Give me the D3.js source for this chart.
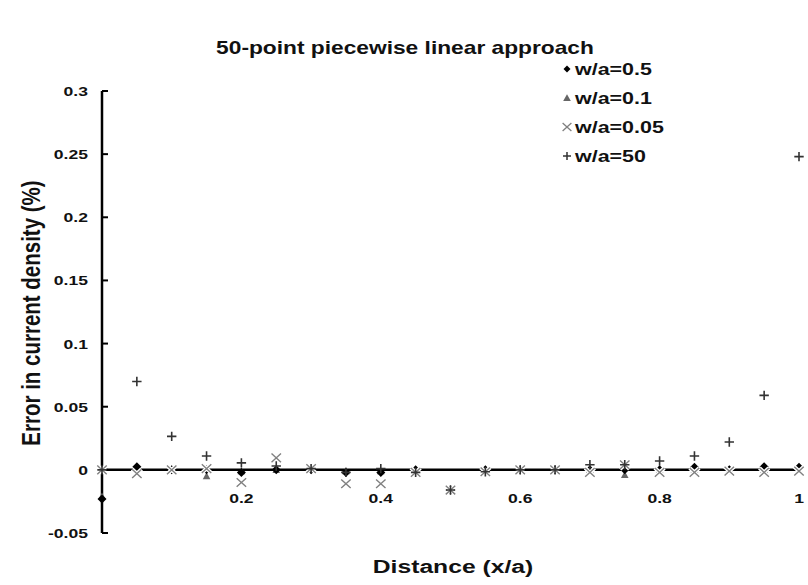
<!DOCTYPE html>
<html>
<head>
<meta charset="utf-8">
<script src="https://cdn.jsdelivr.net/npm/d3@7"></script>
<style>
  html, body { margin: 0; padding: 0; background: #fff; }
  svg { display: block; font-family: Arial, "Liberation Sans", sans-serif; }
</style>
</head>
<body>
<svg id="chart" width="808" height="585"></svg>
<script>
// ---- data ----
const xValues = [0, 0.05, 0.1, 0.15, 0.2, 0.25, 0.3, 0.35, 0.4, 0.45, 0.5,
                 0.55, 0.6, 0.65, 0.7, 0.75, 0.8, 0.85, 0.9, 0.95, 1.0];
const seriesNames = ["w/a=0.5", "w/a=0.1", "w/a=0.05", "w/a=50"];
const wa05  = [-0.023, 0.0025, 0, 0, -0.002, 0, 0, -0.002, -0.002, 0, -0.016,
               0, 0, 0, 0, 0, 0, 0.002, 0, 0.0025, 0.002];
const wa01  = [-0.021, 0.001, 0, -0.005, -0.001, 0, 0, -0.001, -0.001, 0, -0.016,
               0, 0, 0, 0, -0.004, 0, 0, 0, 0, 0];
const wa005 = [0, -0.003, 0, 0.001, -0.010, 0.0095, 0.001, -0.011, -0.011, -0.002, -0.016,
               -0.0015, 0, 0, -0.002, 0.004, -0.002, -0.002, -0.001, -0.002, -0.001];
const wa50  = [0, 0.070, 0.0265, 0.011, 0.0055, 0.003, 0.001, -0.002, 0.001, -0.002, -0.016,
               -0.0015, 0, 0, 0.004, 0.004, 0.007, 0.011, 0.022, 0.059, 0.248];
const yTicks = [-0.05, 0, 0.05, 0.1, 0.15, 0.2, 0.25, 0.3];
const yTickLabels = ["-0.05", "0", "0.05", "0.1", "0.15", "0.2", "0.25", "0.3"];
const xTicks = [0.2, 0.4, 0.6, 0.8, 1];
const xTickLabels = ["0.2", "0.4", "0.6", "0.8", "1"];
const titleText = "50-point piecewise linear approach";
const xTitle = "Distance (x/a)";
const yTitle = "Error in current density (%)";

// ---- layout ----
const SX = 1.3; // horizontal stretch of the original picture's text
const svg = d3.select("#chart");
const x = d3.scaleLinear().domain([0, 1]).range([102, 799]);
const y = d3.scaleLinear().domain([-0.05, 0.3]).range([533, 91]);

function stretchedText(parent, px, py, size, anchor, str) {
  return parent.append("text")
    .attr("transform", `translate(${px},${py}) scale(${SX},1)`)
    .attr("text-anchor", anchor).attr("font-size", size)
    .attr("font-weight", "bold").attr("fill", "#111").text(str);
}

// title
stretchedText(svg, 405, 54, 17.5, "middle", titleText);
// axis titles
stretchedText(svg, 453, 573, 19, "middle", xTitle);
svg.append("text").attr("transform", `translate(40,313) scale(${SX},1) rotate(-90)`)
  .attr("text-anchor", "middle").attr("font-size", 20.5).attr("font-weight", "bold")
  .attr("fill", "#111").text(yTitle);

// y axis (ticks inside, to the right)
const yAxisG = svg.append("g").attr("transform", `translate(${x(0)},0)`);
yAxisG.append("line").attr("y1", y(0.3)).attr("y2", y(-0.05))
  .attr("stroke", "#000").attr("stroke-width", 2.5);
yAxisG.selectAll("line.tick").data(yTicks).join("line").attr("class", "tick")
  .attr("x1", 0).attr("x2", 6).attr("y1", d => y(d)).attr("y2", d => y(d))
  .attr("stroke", "#000").attr("stroke-width", 2);
yTicks.forEach((d, i) => {
  stretchedText(yAxisG, -14, y(d) + 5, 13.5, "end", yTickLabels[i]);
});

// x axis line at y=0
svg.append("line").attr("x1", x(0)).attr("x2", x(1)).attr("y1", y(0)).attr("y2", y(0))
  .attr("stroke", "#000").attr("stroke-width", 2.5);
xTicks.forEach((d, i) => {
  stretchedText(svg, x(d), y(0) + 33, 13.5, "middle", xTickLabels[i]);
});

// marker paths
function diamondPath(s) { return `M0,${-s}L${s},0L0,${s}L${-s},0Z`; }
function trianglePath(s) { return `M0,${-s}L${s},${s*0.8}L${-s},${s*0.8}Z`; }
function xPath(s) { return `M${-s*1.1},${-s}L${s*1.1},${s}M${-s*1.1},${s}L${s*1.1},${-s}`; }
function plusPath(s) { return `M${-s},0L${s},0M0,${-s}L0,${s}`; }

const plot = svg.append("g");
function pts(vals) { return xValues.map((xv, i) => ({ x: xv, y: vals[i] })).filter(d => d.y !== null); }

plot.selectAll("path.tri").data(pts(wa01)).join("path").attr("class", "tri")
  .attr("transform", d => `translate(${x(d.x)},${y(d.y)})`)
  .attr("d", trianglePath(3.8)).attr("fill", "#666");
plot.selectAll("path.dia").data(pts(wa05)).join("path").attr("class", "dia")
  .attr("transform", d => `translate(${x(d.x)},${y(d.y)})`)
  .attr("d", diamondPath(4.5)).attr("fill", "#000");
plot.selectAll("path.xh").data(pts(wa005)).join("path").attr("class", "xh")
  .attr("transform", d => `translate(${x(d.x)},${y(d.y)})`)
  .attr("d", xPath(4.3)).attr("stroke", "#fff").attr("stroke-width", 4).attr("fill", "none");
plot.selectAll("path.xm").data(pts(wa005)).join("path").attr("class", "xm")
  .attr("transform", d => `translate(${x(d.x)},${y(d.y)})`)
  .attr("d", xPath(4.3)).attr("stroke", "#808080").attr("stroke-width", 1.4).attr("fill", "none");
plot.selectAll("path.pm").data(pts(wa50)).join("path").attr("class", "pm")
  .attr("transform", d => `translate(${x(d.x)},${y(d.y)})`)
  .attr("d", plusPath(4.7)).attr("stroke", "#333").attr("stroke-width", 1.6).attr("fill", "none");

// legend
const legendY = [69, 98, 127, 156];
const legend = svg.append("g");
seriesNames.forEach((name, i) => {
  const g = legend.append("g").attr("transform", `translate(567,${legendY[i]})`);
  if (i === 0) g.append("path").attr("d", diamondPath(3.5)).attr("fill", "#000");
  if (i === 1) g.append("path").attr("d", trianglePath(3.8)).attr("fill", "#666");
  if (i === 2) g.append("path").attr("d", xPath(4)).attr("stroke", "#808080").attr("stroke-width", 1.3).attr("fill", "none");
  if (i === 3) g.append("path").attr("d", plusPath(4)).attr("stroke", "#333").attr("stroke-width", 1.5).attr("fill", "none");
  stretchedText(g, 8, 6, 16.5, "start", name);
});
</script>
</body>
</html>
